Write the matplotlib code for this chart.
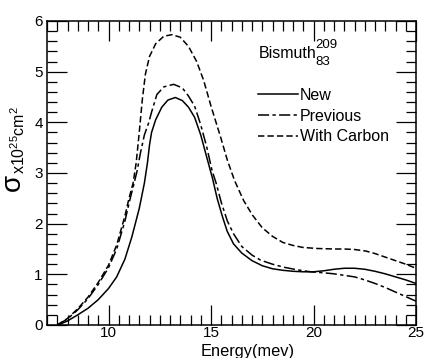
import matplotlib
matplotlib.use('Agg')
import matplotlib.pyplot as plt
from matplotlib.ticker import MultipleLocator, FixedLocator

plt.rcParams['font.family'] = ['Liberation Sans', 'DejaVu Sans']
plt.rcParams['mathtext.fontset'] = 'custom'
plt.rcParams['mathtext.rm'] = 'Liberation Sans'
plt.rcParams['mathtext.it'] = 'Liberation Sans'
plt.rcParams['mathtext.sf'] = 'Liberation Sans'
plt.rcParams['lines.scale_dashes'] = False

# ---- data (Energy in MeV, cross-section in 1e-25 cm^2) ----
new_E = [7.55, 8.0, 8.5, 9.0, 9.5, 10.0, 10.4, 10.8, 11.14, 11.5, 11.75, 11.9, 12.0,
         12.1, 12.3, 12.6, 12.9, 13.26, 13.6, 13.9, 14.2, 14.5, 14.8, 15.07, 15.3,
         15.55, 15.79, 16.1, 16.5, 17.0, 17.5, 18.0, 18.5, 19.0, 19.5, 20.0, 20.5,
         21.0, 21.5, 22.0, 22.5, 23.0, 23.5, 24.0, 24.5, 25.0]
new_s = [0.0, 0.08, 0.2, 0.33, 0.5, 0.72, 0.95, 1.3, 1.74, 2.3, 2.8, 3.2, 3.55,
         3.8, 4.05, 4.3, 4.44, 4.49, 4.43, 4.3, 4.1, 3.75, 3.3, 2.9, 2.5,
         2.15, 1.85, 1.6, 1.42, 1.27, 1.17, 1.11, 1.08, 1.06, 1.05, 1.05, 1.07,
         1.1, 1.12, 1.12, 1.1, 1.06, 1.01, 0.95, 0.89, 0.82]

prev_E = [7.5, 8.0, 8.5, 9.0, 9.5, 10.0, 10.4, 10.8, 11.06, 11.25, 11.4, 11.55, 11.75,
          11.95, 12.1, 12.36, 12.7, 13.18, 13.6, 13.9, 14.2, 14.5, 14.8, 15.05, 15.25,
          15.5, 15.8, 16.1, 16.5, 17.0, 17.42, 18.0, 18.56, 19.2, 19.86, 20.5, 21.0,
          21.5, 22.0, 22.5, 23.0, 23.5, 24.0, 24.5, 25.0]
prev_s = [0.0, 0.12, 0.3, 0.52, 0.8, 1.13, 1.5, 2.05, 2.5, 2.8, 3.05, 3.38, 3.75,
          3.98, 4.2, 4.55, 4.7, 4.75, 4.68, 4.52, 4.32, 3.95, 3.5, 3.05, 2.8,
          2.42, 2.05, 1.8, 1.55, 1.38, 1.28, 1.2, 1.14, 1.09, 1.05, 1.03, 1.01,
          0.98, 0.95, 0.89, 0.82, 0.74, 0.65, 0.56, 0.47]

carb_E = [7.5, 8.0, 8.5, 9.0, 9.5, 10.0, 10.4, 10.8, 11.0, 11.2, 11.35, 11.5, 11.65,
          11.8, 12.0, 12.3, 12.7, 13.1, 13.5, 13.9, 14.3, 14.64, 15.0, 15.46, 15.8,
          16.15, 16.6, 17.02, 17.5, 18.0, 18.5, 19.0, 19.5, 20.19, 21.0, 21.5, 22.0,
          22.55, 23.0, 23.5, 24.0, 24.5, 25.0]
carb_s = [0.0, 0.13, 0.32, 0.55, 0.84, 1.18, 1.58, 2.15, 2.5, 2.8, 3.2, 3.8, 4.45,
          4.95, 5.3, 5.55, 5.7, 5.73, 5.68, 5.5, 5.2, 4.83, 4.32, 3.72, 3.25,
          2.85, 2.45, 2.17, 1.92, 1.75, 1.63, 1.57, 1.53, 1.51, 1.5, 1.5, 1.49,
          1.46, 1.41, 1.34, 1.27, 1.2, 1.12]

labels = ['New', 'Previous', 'With Carbon']
x_ticks = [10, 15, 20, 25]
y_ticks = [0, 1, 2, 3, 4, 5, 6]

W, H = 425, 358
fig = plt.figure(figsize=(W / 100, H / 100), dpi=100)
ax = fig.add_axes([47 / W, 33 / H, 369 / W, 304 / H])

lw = 1.1
ax.plot(new_E, new_s, color='black', lw=lw, label=labels[0])
ax.plot(prev_E, prev_s, color='black', lw=lw, dashes=(8.0, 2.4, 2.4, 2.4), label=labels[1])
ax.plot(carb_E, carb_s, color='black', lw=lw, dashes=(4.6, 2.2), label=labels[2])

ax.set_xlim(7, 25)
ax.set_ylim(0, 6)
ax.xaxis.set_major_locator(FixedLocator(x_ticks))
ax.xaxis.set_minor_locator(MultipleLocator(0.5))
ax.yaxis.set_major_locator(FixedLocator(y_ticks))
ax.yaxis.set_minor_locator(MultipleLocator(0.2))
ax.tick_params(which='both', direction='in', top=True, right=True, width=0.9, color='black')
ax.tick_params(which='major', length=14.4)
ax.tick_params(which='minor', length=7.2)
ax.tick_params(axis='x', which='major', pad=1, labelsize=11)
ax.tick_params(axis='y', which='major', pad=3, labelsize=11)
for s in ax.spines.values():
    s.set_linewidth(1.1)

ax.text(248 / W, 2 / H, 'Energy(mev)', transform=fig.transFigure,
        ha='center', va='baseline', fontsize=11.8)

ax.text(259 / W, (358 - 58) / H, 'Bismuth', transform=fig.transFigure,
        ha='left', va='baseline', fontsize=11.5)
ax.text(315 / W, (358 - 48) / H, '209', transform=fig.transFigure,
        ha='left', va='baseline', fontsize=9.5)
ax.text(315 / W, (358 - 65) / H, '83', transform=fig.transFigure,
        ha='left', va='baseline', fontsize=9.5)

leg = ax.legend(loc='upper left', bbox_to_anchor=((258 - 47) / 369, (325 - 88) / 304),
                frameon=False, fontsize=11.5, handlelength=2.5, handletextpad=0.12,
                labelspacing=0.35, borderpad=0, borderaxespad=0)

fig.text(13 / W, (358 - 184) / H, r'$\sigma$', rotation=90, fontsize=20,
         ha='center', va='center', family='DejaVu Sans')
fig.text(19 / W, (358 - 140) / H, r'x10$^{25}$cm$^{2}$', rotation=90, fontsize=11.5,
         ha='center', va='center')

fig.savefig('out.png', dpi=100, facecolor='white')
